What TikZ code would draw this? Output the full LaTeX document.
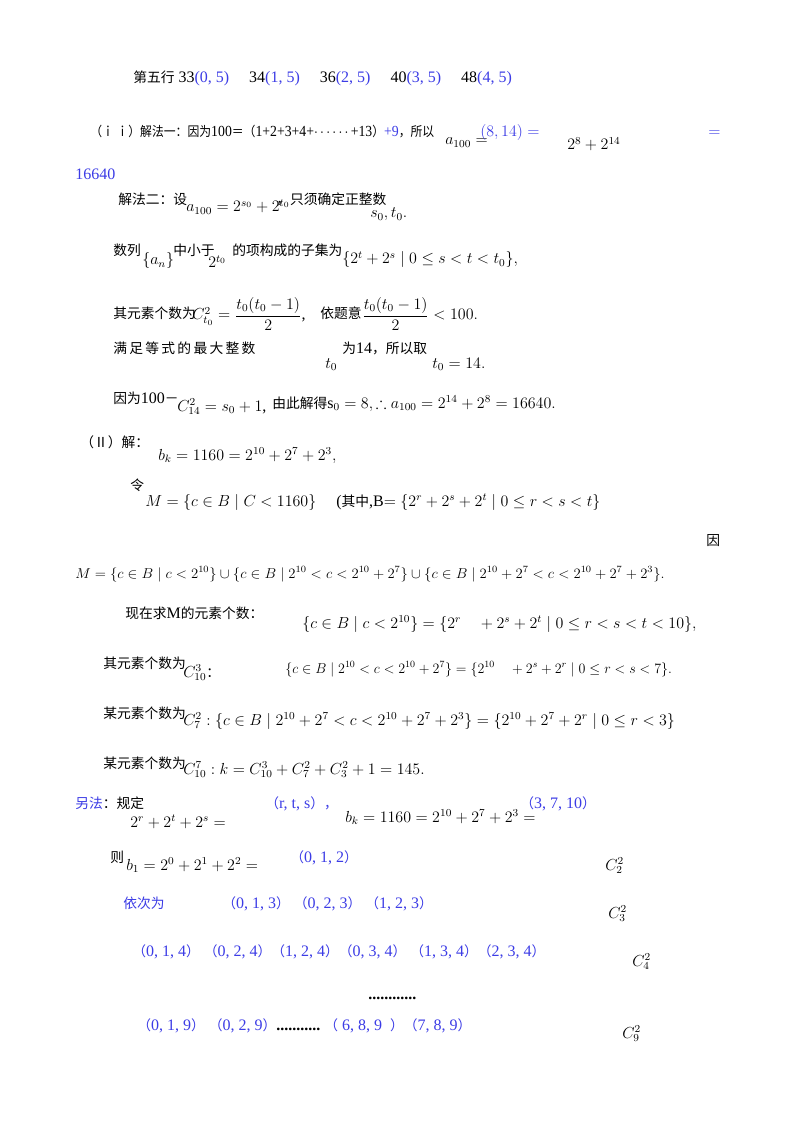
\documentclass[tikz,border=0pt]{standalone}
\usepackage{amsmath,amssymb}
\usepackage{graphicx}
\usepackage{fontspec}
\setmainfont{Liberation Serif}
\newfontfamily\cjk[Scale=0.86]{Noto Sans CJK SC}
\definecolor{bl}{RGB}{60,60,230}
\newcommand{\zh}[1]{{\cjk #1}}
\begin{document}
\begin{tikzpicture}[x=0.75pt,y=-0.75pt,
  t/.style={anchor=base west,inner sep=0pt,font=\fontsize{12}{14}\selectfont},
  b/.style={t,text=bl}]
\useasboundingbox (0,0) rectangle (800,1130);
\fill[white] (0,0) rectangle (800,1130);
\node[t] (r1) at (133,83) {\zh{第五行}\ 33\textcolor{bl}{(0, 5)}\quad\ 34\textcolor{bl}{(1, 5)}\quad\ 36\textcolor{bl}{(2, 5)}\quad\ 40\textcolor{bl}{(3, 5)}\quad\ 48\textcolor{bl}{(4, 5)}};
\node[t] (r2) at (90,137) {\resizebox{258pt}{8.5pt}{\zh{（ｉ ｉ）解法一：因为}100\zh{＝（}1+2+3+4+$\cdots\cdots$+13\zh{）}\textcolor{bl}{+9}\zh{，所以}}};
\node[t] (r2a) at (445,145) {$a_{100}=$};
\node[b] (r2b) at (480,137) {$(8,14)=$};
\node[t] (r2c) at (567,150) {$2^8+2^{14}$};
\node[b] (r2d) at (708,137) {$=$};
\node[b] (r3) at (75,180) {16640};
\node[t] (r4) at (118,205) {\zh{解法二：设}};
\node[t] (r4a) at (186,212) {$a_{100}=2^{s_0}+2^{t_0}$};
\node[t] (r4c) at (276,205) {\zh{，只须确定正整数}};
\node[t] (r4b) at (370,218) {$s_0,t_0.$};
\node[t] (r5) at (113,256) {\zh{数列}};
\node[t] (r5a) at (142,265) {$\{a_n\}$};
\node[t] (r5b) at (173,256) {\zh{中小于}};
\node[t] (r5c) at (208,268) {$2^{t_0}$};
\node[t] (r5d) at (232,256) {\zh{的项构成的子集为}};
\node[t] (r5e) at (342,264) {$\{2^t+2^s\mid 0\le s<t<t_0\},$};
\node[t] (r6) at (113,318) {\zh{其元素个数为}};
\node[t] (r6a) at (192,320) {$C^2_{t_0}=\dfrac{t_0(t_0-1)}{2}$,};
\node[t] (r6b) at (320,318) {\zh{依题意}};
\node[t] (r6c) at (362,320) {$\dfrac{t_0(t_0-1)}{2}<100.$};
\node[t] (r7) at (113,353) {\zh{满\,足\,等\,式\,的\,最\,大\,整\,数}};
\node[t] (r7a) at (325,368) {$t_0$};
\node[t] (r7b) at (342,353) {\zh{为}14\zh{，所以取}};
\node[t] (r7d) at (432,368) {$t_0=14.$};
\node[t] (r8) at (113,403) {\zh{因为}100\zh{－}};
\node[t] (r8a) at (177,411) {$C^2_{14}=s_0+1$,};
\node[t] (r8b) at (272,408) {\zh{由此解得}$\mathrm{s}_0=8,\therefore a_{100}=2^{14}+2^8=16640.$};
\node[t] (r9) at (80,447) {\zh{（Ⅱ）解：}};
\node[t] (r9a) at (158,460) {$b_k=1160=2^{10}+2^7+2^3,$};
\node[t] (r10) at (130,490) {\zh{令}};
\node[t] (r10a) at (145,506) {$M=\{c\in B\mid C<1160\}$};
\node[t] (r10b) at (336,506) {(\zh{其中},B$=\{2^r+2^s+2^t\mid 0\le r<s<t\}$};
\node[t] (r11) at (706,545) {\zh{因}};
\node[t] (r12) at (75,578) {\resizebox{442pt}{8.5pt}{$M=\{c\in B\mid c<2^{10}\}\cup\{c\in B\mid 2^{10}<c<2^{10}+2^7\}\cup\{c\in B\mid 2^{10}+2^7<c<2^{10}+2^7+2^3\}.$}};
\node[t] (r13) at (125,618) {\zh{现在求}M\zh{的元素个数：}};
\node[t] (r13a) at (302,628) {$\{c\in B\mid c<2^{10}\}=\{2^r\quad+2^s+2^t\mid 0\le r<s<t<10\},$};
\node[t] (r14) at (103,668) {\zh{其元素个数为}};
\node[t] (r14a) at (183,677) {$C^3_{10}$\zh{：}};
\node[t] (r14b) at (285,673) {\resizebox{290pt}{8.5pt}{$\{c\in B\mid 2^{10}<c<2^{10}+2^7\}=\{2^{10}\quad+2^s+2^r\mid 0\le r<s<7\}.$}};
\node[t] (r15) at (103,718) {\zh{某元素个数为}};
\node[t] (r15a) at (183,725) {$C^2_7:\{c\in B\mid 2^{10}+2^7<c<2^{10}+2^7+2^3\}=\{2^{10}+2^7+2^r\mid 0\le r<3\}$};
\node[t] (r16) at (103,768) {\zh{某元素个数为}};
\node[t] (r16a) at (183,774) {$C^7_{10}:k=C^3_{10}+C^2_7+C^2_3+1=145.$};
\node[b] (r17) at (75,808) {\zh{另法}\textcolor{black}{\zh{：规定}}};
\node[t] (r17a) at (130,827) {$2^r+2^t+2^s=$};
\node[b] (r17b) at (265,808) {\zh{（}r, t, s\zh{），}};
\node[t] (r17c) at (345,822) {$b_k=1160=2^{10}+2^7+2^3=$};
\node[b] (r17d) at (520,808) {\zh{（}3, 7, 10\zh{）}};
\node[t] (r18) at (110,862) {\zh{则}};
\node[t] (r18a) at (126,870) {$b_1=2^0+2^1+2^2=$};
\node[b] (r18b) at (290,862) {\zh{（}0, 1, 2\zh{）}};
\node[t] (c2) at (605,870) {$C^2_2$};
\node[b] (r19) at (123,908) {\zh{依次为}};
\node[b] (r19a) at (222,908) {\zh{（}0, 1, 3\zh{）}\ \zh{（}0, 2, 3\zh{）}\ \zh{（}1, 2, 3\zh{）}};
\node[t] (c3) at (608,918) {$C^2_3$};
\node[b] (r20) at (132,956) {\zh{（}0, 1, 4\zh{）}\ \zh{（}0, 2, 4\zh{）}\zh{（}1, 2, 4\zh{）}\zh{（}0, 3, 4\zh{）}\ \zh{（}1, 3, 4\zh{）}\zh{（}2, 3, 4\zh{）}};
\node[t] (c4) at (632,966) {$C^2_4$};
\node[t] (d1) at (368,999) {\textbf{............}};
\node[b] (r21) at (137,1030) {\zh{（}0, 1, 9\zh{）}\ \zh{（}0, 2, 9\zh{）}\textcolor{black}{\textbf{...........}}\ \zh{（}\ 6, 8, 9\ \ \zh{）}\zh{（}7, 8, 9\zh{）}};
\node[t] (c9) at (622,1038) {$C^2_9$};
\end{tikzpicture}
\end{document}
